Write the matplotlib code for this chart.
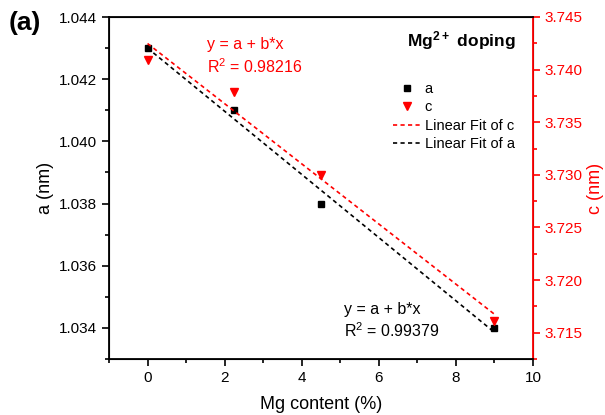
import numpy as np
import matplotlib
matplotlib.use("Agg")
import matplotlib.pyplot as plt
from matplotlib.ticker import MultipleLocator, FormatStrFormatter

plt.rcParams['font.family'] = ['Liberation Sans', 'DejaVu Sans']
plt.rcParams['mathtext.fontset'] = 'custom'
plt.rcParams['mathtext.rm'] = 'Liberation Sans'
plt.rcParams['mathtext.bf'] = 'Liberation Sans:bold'

# Mg content (%) and lattice parameters
mg = [0, 2.25, 4.5, 9]
a_nm = [1.0430, 1.0410, 1.0380, 1.0340]
c_nm = [3.7409, 3.7379, 3.7300, 3.7161]

fig = plt.figure(figsize=(6.05, 4.15), dpi=100)
ax = fig.add_axes([109/605, 1-359/415, (533-109)/605, (359-17)/415])
ax2 = ax.twinx()

# linear fits
xf = np.array([0, 9])
pa = np.polyfit(mg, a_nm, 1)
pc = np.polyfit(mg, c_nm, 1)

ha, = ax.plot(mg, a_nm, 's', color='black', ms=5, label='a')
hfa, = ax.plot(xf, np.polyval(pa, xf), '--', color='black', lw=1.2,
               dashes=(2.5, 2), label='Linear Fit of a')
hc, = ax2.plot(mg, c_nm, 'v', color='red', ms=6, label='c')
hfc, = ax2.plot(xf, np.polyval(pc, xf), '--', color='red', lw=1.2,
                dashes=(2.5, 2), label='Linear Fit of c')

ax.set_xlim(-1, 10)
ax.set_ylim(1.033, 1.044)
ax2.set_ylim(3.7125, 3.745)

ax.xaxis.set_major_locator(MultipleLocator(2))
ax.xaxis.set_minor_locator(MultipleLocator(1))
ax.yaxis.set_major_locator(MultipleLocator(0.002))
ax.yaxis.set_minor_locator(MultipleLocator(0.001))
ax2.yaxis.set_major_locator(MultipleLocator(0.005))
ax2.yaxis.set_minor_locator(MultipleLocator(0.0025))
ax.yaxis.set_major_formatter(FormatStrFormatter('%.3f'))
ax2.yaxis.set_major_formatter(FormatStrFormatter('%.3f'))

ax.tick_params(which='both', direction='out', labelsize=11, width=1.2)
ax.tick_params(which='major', length=5)
ax.tick_params(which='minor', length=3)
ax2.tick_params(which='both', direction='out', labelsize=11, width=1.2,
                colors='red')
ax2.tick_params(which='major', length=5)
ax2.tick_params(which='minor', length=3)

for s in ['left', 'bottom', 'top']:
    ax2.spines[s].set_linewidth(1.3)
ax2.spines['right'].set_color('red')
ax2.spines['right'].set_linewidth(1.3)

ax.set_xlabel('Mg content (%)', fontsize=13, labelpad=8)
ax.set_ylabel('a (nm)', fontsize=13, labelpad=4)
ax2.set_ylabel('c (nm)', fontsize=13, color='red', labelpad=3)

ax2.legend([ha, hc, hfc, hfa], ['a', 'c', 'Linear Fit of c', 'Linear Fit of a'],
           loc='upper left', bbox_to_anchor=(0.645, 0.84), frameon=False,
           fontsize=10.5, handlelength=2.0, handletextpad=0.2,
           labelspacing=0.3, borderpad=0.2)

ax2.text(0.96, 0.93, r'$\mathbf{Mg^{2+}\ doping}$', transform=ax.transAxes,
         ha='right', va='center', fontsize=12.5)
ax2.text(0.23, 0.92, 'y = a + b*x', transform=ax.transAxes, color='red',
         ha='left', va='center', fontsize=11.5)
ax2.text(0.23, 0.855, 'R$^2$ = 0.98216', transform=ax.transAxes, color='red',
         ha='left', va='center', fontsize=11.5)
ax2.text(0.555, 0.145, 'y = a + b*x', transform=ax.transAxes, color='black',
         ha='left', va='center', fontsize=11.5)
ax2.text(0.555, 0.082, 'R$^2$ = 0.99379', transform=ax.transAxes, color='black',
         ha='left', va='center', fontsize=11.5)

fig.text(0.015, 0.945, '(a)', fontsize=19, fontweight='bold', ha='left', va='center')

fig.savefig('out.png', dpi=100)
